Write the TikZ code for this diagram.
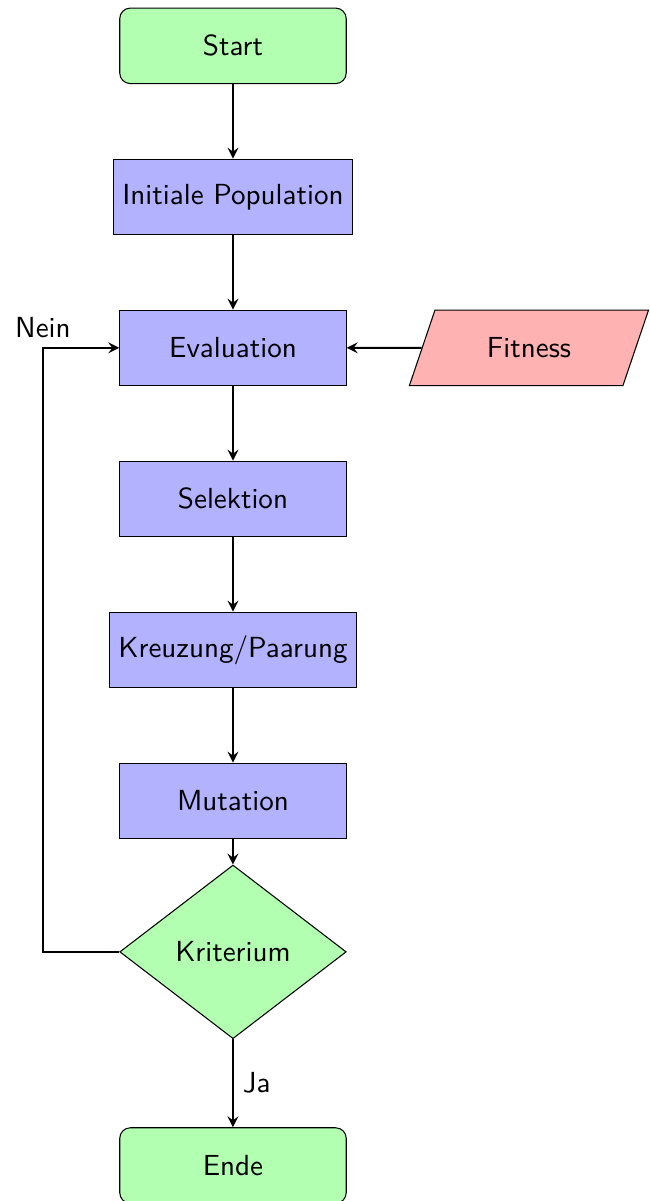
\documentclass[tikz,border=0pt]{standalone}
\usetikzlibrary{shapes.geometric,arrows}
\begin{document}
\begin{tikzpicture}[
  font=\fontsize{10.95pt}{13pt}\selectfont\sffamily,
  terminal/.style={rectangle, rounded corners, draw=black, fill=green!30,
                   minimum width=3cm, minimum height=1cm},
  process/.style={rectangle, draw=black, fill=blue!30,
                  minimum width=3cm, minimum height=1cm},
  decision/.style={diamond, draw=black, fill=green!30,
                   minimum width=3cm, minimum height=2.3cm},
  io/.style={trapezium, trapezium left angle=70, trapezium right angle=110,
             trapezium stretches=true, draw=black, fill=red!30,
             minimum width=3.18cm, minimum height=1cm},
  flow/.style={thick, ->, >=stealth}
]
  \useasboundingbox (-3.086,0.607) rectangle (5.51,-15.30);

  % main chain of the algorithm
  \node[terminal] (start) at (0,0)      {Start};
  \node[process]  (init)  at (0,-2)     {Initiale Population};
  \node[process]  (eval)  at (0,-4)     {Evaluation};
  \node[process]  (sel)   at (0,-6)     {Selektion};
  \node[process]  (cross) at (0,-8)     {Kreuzung/Paarung};
  \node[process]  (mut)   at (0,-10)    {Mutation};
  \node[decision] (crit)  at (0,-12)    {Kriterium};
  \node[terminal] (stop)  at (0,-14.83) {Ende};

  % fitness function input
  \node[io] (fit) at (3.92,-4) {Fitness};

  % loop-back corners
  \coordinate (lb) at (-2.517,-12);
  \coordinate (lt) at (-2.517,-4);

  \draw[flow] (start) -- (init);
  \draw[flow] (init) -- (eval);
  \draw[flow] (eval) -- (sel);
  \draw[flow] (sel) -- (cross);
  \draw[flow] (cross) -- (mut);
  \draw[flow] (mut) -- (crit);
  \draw[flow] (crit) -- node[right] {Ja} (stop);
  \draw[flow] (fit) -- (eval);
  \draw[flow] (crit.west) -- (lb) -- (lt) node[above] {Nein} -- (eval.west);
\end{tikzpicture}
\end{document}
